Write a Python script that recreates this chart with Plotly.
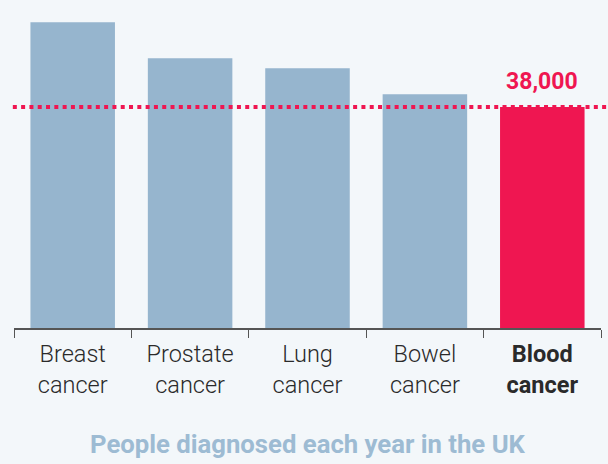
import plotly.graph_objects as go

categories = ["Breast cancer", "Prostate cancer", "Lung cancer", "Bowel cancer", "Blood cancer"]
tick_labels = ["Breast<br>cancer", "Prostate<br>cancer", "Lung<br>cancer", "Bowel<br>cancer", "<b>Blood<br>cancer</b>"]
values = [52600, 46400, 44700, 40200, 38000]
highlight_value = 38000
highlight_label = "38,000"
title_text = "People diagnosed each year in the UK"

bar_colors = ["#96B5CE"] * 4 + ["#EF1651"]

fig = go.Figure()
fig.add_trace(go.Bar(x=categories, y=values, marker=dict(color=bar_colors, line=dict(width=0)),
                     width=0.72, hoverinfo="skip"))

fig.add_shape(type="line", xref="paper", yref="y", x0=-0.002, x1=1.009,
              y0=highlight_value, y1=highlight_value,
              line=dict(color="#EF1651", width=4, dash="4px,4.3px"), layer="above")

fig.add_annotation(x=categories[-1], y=highlight_value, text="<b>" + highlight_label + "</b>",
                   showarrow=False, yanchor="bottom", yshift=10,
                   font=dict(family="Roboto", size=23, color="#EF1651"))

fig.add_annotation(x=0.5, xref="paper", y=-0.365, yref="paper", text="<b>" + title_text + "</b>",
                   showarrow=False, yanchor="middle",
                   font=dict(family="Roboto", size=25.7, color="#9DBBD3"))

fig.update_layout(
    width=608, height=464,
    margin=dict(l=14, r=7, t=10, b=136),
    paper_bgcolor="#F3F7FA", plot_bgcolor="#F3F7FA",
    showlegend=False,
    bargap=0.28,
    xaxis=dict(tickmode="array", tickvals=categories, ticktext=tick_labels,
               tickson="boundaries", ticks="outside", ticklen=8, tickcolor="#555555",
               showline=True, linecolor="#555555", linewidth=1.5,
               ticklabelstandoff=4,
               tickfont=dict(family="Roboto", weight=300, size=23.5, color="#2a2a2a"),
               showgrid=False, fixedrange=True),
    yaxis=dict(range=[0, 54700], visible=False, showgrid=False, fixedrange=True),
)

fig.write_html("out.html", config={"displayModeBar": False},
               post_script="document.body.style.margin='0';document.body.style.background='#F3F7FA';document.body.style.overflow='hidden';")
